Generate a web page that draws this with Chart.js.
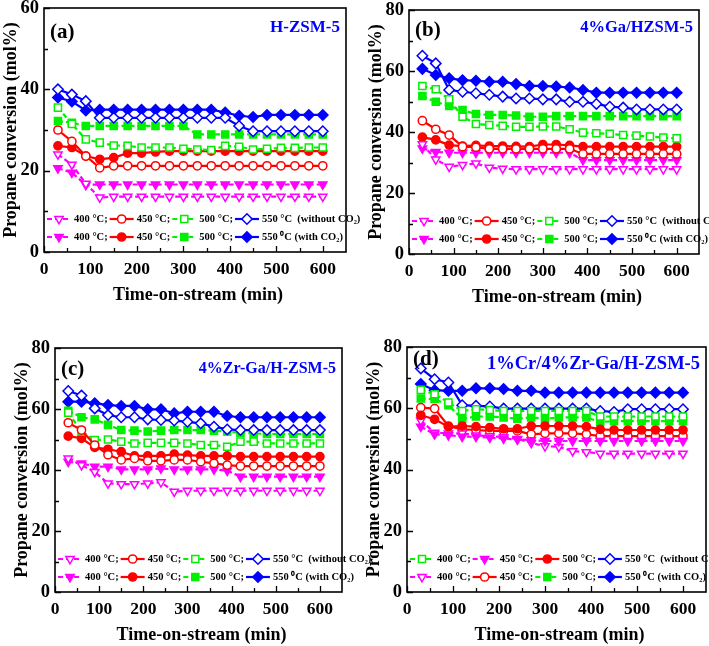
<!DOCTYPE html>
<html><head><meta charset="utf-8">
<script src="https://cdn.jsdelivr.net/npm/chart.js@4/dist/chart.umd.min.js"></script>
<style>
html,body{margin:0;padding:0;background:#fff;}
#wrap{position:relative;width:709px;height:646px;overflow:hidden;background:#fff;}
#wrap canvas{position:absolute;left:-20px;top:-20px;}
</style></head><body><div id="wrap">
<canvas id="ca" width="749" height="686"></canvas>
<canvas id="cb" width="749" height="686"></canvas>
<canvas id="cc" width="749" height="686"></canvas>
<canvas id="cd" width="749" height="686"></canvas>
</div>
<script>
// ---------- shared axis data ----------
const timeMin = [30,60,90,120,150,180,210,240,270,300,330,360,390,420,450,480,510,540,570,600];
const xTickValues = [0,100,200,300,400,500,600];
const yTickValuesA = [0,20,40,60];
const yTickValuesBCD = [0,20,40,60,80];

// ---------- panel (a) H-ZSM-5 ----------
const aMag400Open = [24.0,21.5,16.8,13.4,13.6,13.6,13.6,13.6,13.6,13.6,13.6,13.6,13.6,13.6,13.6,13.6,13.6,13.6,13.6,13.6];
const aRed450Open = [30.0,27.2,23.6,20.7,21.2,21.2,21.2,21.2,21.2,21.2,21.2,21.2,21.2,21.2,21.2,21.2,21.2,21.2,21.2,21.2];
const aGrn500Open = [35.5,31.5,27.7,26.9,26.2,26.1,25.7,25.7,25.7,25.4,25.2,25.1,26.1,25.9,25.2,25.4,25.6,25.6,25.7,25.7];
const aBlu550Open = [40.0,38.7,37.1,33.0,33.0,33.0,33.0,33.0,33.0,33.0,33.0,33.0,33.0,31.0,29.7,29.7,29.7,29.7,29.7,29.7];
const aMag400Fill = [20.6,19.5,16.5,16.6,16.6,16.6,16.6,16.6,16.6,16.6,16.6,16.6,16.6,16.6,16.6,16.6,16.6,16.6,16.6,16.6];
const aRed450Fill = [26.1,25.7,23.6,22.8,23.2,24.3,24.3,24.6,24.8,24.8,24.8,24.8,24.8,24.8,24.8,24.8,24.8,24.8,24.8,24.8];
const aGrn500Fill = [32.2,31.8,31.0,31.0,31.0,31.0,31.0,31.0,31.0,31.0,28.9,28.9,28.9,28.9,28.9,28.9,28.9,28.9,28.9,28.9];
const aBlu550Fill = [38.0,37.0,34.8,35.0,35.0,35.0,35.0,35.0,35.0,35.0,35.0,35.0,34.3,33.5,33.2,33.7,33.7,33.7,33.7,33.7];

// ---------- panel (b) 4%Ga/HZSM-5 ----------
const bMag400Open = [36.0,31.0,28.6,29.2,29.7,28.3,28.0,27.8,27.8,27.8,27.8,27.8,27.8,27.8,27.8,27.8,27.8,27.8,27.8,27.8];
const bRed450Open = [43.7,40.9,39.0,35.2,35.0,34.5,34.5,34.5,34.5,34.5,34.5,34.5,32.8,32.8,32.8,32.8,32.8,32.8,32.8,32.8];
const bGrn500Open = [55.1,54.0,50.7,45.0,42.6,42.3,42.0,41.7,41.7,41.8,41.8,40.9,39.8,39.6,39.4,39.0,38.8,38.5,38.2,37.9];
const bBlu550Open = [65.0,62.5,53.8,53.2,52.7,52.2,51.6,51.0,51.0,50.7,50.7,49.9,49.9,49.2,48.3,48.0,47.4,47.4,47.4,47.4];
const bMag400Fill = [34.6,33.5,33.2,33.2,33.2,33.2,33.2,33.2,33.2,33.2,33.2,33.2,30.8,30.8,30.8,30.8,30.8,30.8,30.8,30.8];
const bRed450Fill = [38.3,37.4,35.7,35.4,35.6,35.4,35.4,35.3,35.2,35.9,35.9,35.6,35.2,35.2,35.2,35.2,35.2,35.2,35.2,35.2];
const bGrn500Fill = [51.8,49.9,48.5,47.2,45.9,45.6,45.6,45.4,45.0,45.0,45.2,45.2,45.2,45.2,45.2,45.2,45.2,45.2,45.2,45.2];
const bBlu550Fill = [60.7,58.7,57.6,57.0,56.8,56.5,56.5,55.7,55.1,55.1,54.9,54.6,53.8,52.9,52.9,52.9,52.9,52.9,52.9,52.9];

// ---------- panel (c) 4%Zr-Ga/H-ZSM-5 ----------
const cMag400Open = [43.8,41.6,39.4,35.6,35.4,35.4,35.6,36.0,32.9,33.2,33.2,33.2,33.2,33.2,33.2,33.2,33.2,33.2,33.2,33.2];
const cRed450Open = [55.5,53.1,48.2,45.0,43.3,43.8,43.0,43.0,43.3,43.3,42.7,42.2,41.6,41.3,41.3,41.3,41.3,41.3,41.3,41.3];
const cGrn500Open = [58.8,52.6,49.8,50.0,49.3,48.7,48.9,48.9,48.9,48.7,48.2,48.2,47.6,49.3,49.3,48.7,48.7,48.7,48.7,48.7];
const cBlu550Open = [65.9,64.4,60.2,58.0,57.3,57.3,56.6,56.4,56.2,55.8,55.3,54.2,53.3,53.1,53.1,53.1,53.1,53.1,53.1,53.1];
const cMag400Fill = [42.7,42.2,41.1,41.1,40.2,40.2,40.2,40.5,40.2,40.2,40.2,40.2,39.8,37.8,37.8,37.8,37.8,37.8,37.8,37.8];
const cRed450Fill = [51.1,50.4,47.4,46.8,46.0,44.6,44.6,44.6,45.2,44.9,44.6,44.6,44.6,44.4,44.4,44.4,44.4,44.4,44.4,44.4];
const cGrn500Fill = [59.4,57.3,56.6,54.8,53.1,52.9,52.6,52.9,53.1,53.1,53.1,52.9,52.6,52.2,52.0,51.8,51.8,51.8,51.8,51.8];
const cBlu550Fill = [62.4,62.4,61.9,61.3,61.0,61.0,59.9,59.9,58.6,59.1,59.1,59.1,57.7,57.3,57.3,57.3,57.3,57.3,57.3,57.3];

// ---------- panel (d) 1%Cr/4%Zr-Ga/H-ZSM-5 ----------
const dGrnOpen = [66.0,64.6,61.9,59.1,59.7,59.4,59.1,59.1,59.1,59.1,59.1,59.1,59.1,57.3,57.3,57.3,57.3,57.3,57.3,57.3];
const dMagFill = [54.0,51.5,51.2,50.7,50.7,50.4,50.1,49.8,49.6,49.3,49.3,49.3,49.3,49.3,49.3,49.3,49.3,49.3,49.3,49.3];
const dRedFill = [57.7,56.4,54.0,54.2,54.0,53.7,53.3,53.3,54.2,54.2,54.2,54.2,54.0,53.1,52.9,52.9,52.9,52.9,52.9,52.9];
const dBluOpen = [73.0,69.5,68.4,61.0,60.8,60.6,59.9,59.9,59.9,59.9,59.9,59.9,59.9,59.1,58.8,59.7,59.7,59.7,59.7,59.7];
const dMagOpen = [56.0,52.0,51.8,51.8,51.1,50.9,50.6,50.0,48.7,47.6,47.4,46.0,45.7,45.2,45.2,45.2,45.2,45.2,45.2,45.2];
const dRedOpen = [60.2,59.9,54.2,53.1,52.9,52.6,52.6,52.6,51.5,51.8,51.8,51.8,51.5,50.9,50.9,50.9,50.9,50.9,50.9,50.9];
const dGrnFill = [63.2,63.0,61.0,56.6,57.3,57.3,57.0,56.6,57.0,56.6,57.0,57.0,57.0,55.5,55.8,55.8,55.8,55.8,55.8,55.8];
const dBluFill = [67.9,65.9,65.7,65.7,66.5,66.5,66.3,65.7,65.7,65.1,65.1,65.1,65.1,65.1,65.1,65.1,65.1,65.1,65.1,65.1];

// ---------- labels ----------
const lbl400 = '400 °C;', lbl450 = '450 °C;', lbl500 = '500 °C;';
const lbl550wo = '550 °C  (without CO\u2082)';
const lbl550w = '550 \u2070C (with CO\u2082)';
const yTitle = 'Propane conversion (mol%)';
const xTitle = 'Time-on-stream (min)';

// ---------- styling ----------
const MAG = '#ff00ff', RED = '#ff0000', GRN = '#00f000', BLU = '#0000ff';
const FONT = "'Liberation Serif','Times New Roman',serif";
const OFF = 20, YW = 40, XH = 60;
const STYLE = {
  mag: {color: MAG, pointStyle: 'triangle', rotation: 180, radius: 4.8, dash: [5,3]},
  red: {color: RED, pointStyle: 'circle', rotation: 0, radius: 4.1, dash: []},
  grn: {color: GRN, pointStyle: 'rect', rotation: 0, radius: 5, dash: [5,3]},
  blu: {color: BLU, pointStyle: 'rectRot', rotation: 0, radius: 5.2, dash: []}
};
function S(kind, filled, data, row, col, label){ return {kind, filled, data, row, col, label}; }

const panels = [
  {id:'ca', tag:'(a)', title:'H-ZSM-5', titleSize:17, yMax:60, yTicks:yTickValuesA,
   box:{l:44,t:8,r:346,b:252}, tagDy:25, titleDy:20,
   series:[S('mag',false,aMag400Open,0,0,lbl400),S('red',false,aRed450Open,0,1,lbl450),S('grn',false,aGrn500Open,0,2,lbl500),S('blu',false,aBlu550Open,0,3,lbl550wo),
           S('mag',true,aMag400Fill,1,0,lbl400),S('red',true,aRed450Fill,1,1,lbl450),S('grn',true,aGrn500Fill,1,2,lbl500),S('blu',true,aBlu550Fill,1,3,lbl550w)]},
  {id:'cb', tag:'(b)', title:'4%Ga/HZSM-5', titleSize:16.5, yMax:80, yTicks:yTickValuesBCD,
   box:{l:409,t:10,r:699,b:254}, tagDy:21, titleDy:18,
   series:[S('mag',false,bMag400Open,0,0,lbl400),S('red',false,bRed450Open,0,1,lbl450),S('grn',false,bGrn500Open,0,2,lbl500),S('blu',false,bBlu550Open,0,3,lbl550wo),
           S('mag',true,bMag400Fill,1,0,lbl400),S('red',true,bRed450Fill,1,1,lbl450),S('grn',true,bGrn500Fill,1,2,lbl500),S('blu',true,bBlu550Fill,1,3,lbl550w)]},
  {id:'cc', tag:'(c)', title:'4%Zr-Ga/H-ZSM-5', titleSize:16, yMax:80, yTicks:yTickValuesBCD,
   box:{l:55,t:348,r:342,b:592}, tagDy:22, titleDy:21,
   series:[S('mag',false,cMag400Open,0,0,lbl400),S('red',false,cRed450Open,0,1,lbl450),S('grn',false,cGrn500Open,0,2,lbl500),S('blu',false,cBlu550Open,0,3,lbl550wo),
           S('mag',true,cMag400Fill,1,0,lbl400),S('red',true,cRed450Fill,1,1,lbl450),S('grn',true,cGrn500Fill,1,2,lbl500),S('blu',true,cBlu550Fill,1,3,lbl550w)]},
  {id:'cd', tag:'(d)', title:'1%Cr/4%Zr-Ga/H-ZSM-5', titleSize:18.5, yMax:80, yTicks:yTickValuesBCD,
   box:{l:407,t:347,r:706,b:592}, tagDy:13, titleDy:17,
   series:[S('grn',false,dGrnOpen,0,0,lbl400),S('mag',true,dMagFill,0,1,lbl450),S('red',true,dRedFill,0,2,lbl500),S('blu',false,dBluOpen,0,3,lbl550wo),
           S('mag',false,dMagOpen,1,0,lbl400),S('red',false,dRedOpen,1,1,lbl450),S('grn',true,dGrnFill,1,2,lbl500),S('blu',true,dBluFill,1,3,lbl550w)]}
];

function drawMarker(ctx, st, filled, x, y){
  ctx.save();
  ctx.setLineDash([]);
  ctx.fillStyle = filled ? st.color : '#ffffff';
  ctx.strokeStyle = st.color;
  ctx.lineWidth = 1.5;
  Chart.helpers.drawPoint(ctx, {pointStyle: st.pointStyle, rotation: st.rotation, radius: st.radius, borderWidth: 1.5}, x, y);
  ctx.restore();
}

const extras = {
  id: 'extras',
  afterDraw(chart){
    const p = chart.config.options.plugins.extras.panel;
    const ctx = chart.ctx, ca = chart.chartArea, xs = chart.scales.x, ys = chart.scales.y;
    ctx.save();
    // frame
    ctx.strokeStyle = '#000'; ctx.lineWidth = 1.6; ctx.setLineDash([]);
    ctx.strokeRect(ca.left, ca.top, ca.right - ca.left, ca.bottom - ca.top);
    // inward ticks
    ctx.lineWidth = 1.3;
    ctx.beginPath();
    for (let v = 0; v <= 600; v += 50) {
      const px = Math.round(xs.getPixelForValue(v)) + 0.5;
      const len = (v % 100 === 0) ? 6 : 4;
      ctx.moveTo(px, ca.bottom); ctx.lineTo(px, ca.bottom - len);
    }
    for (let v = 0; v <= p.yMax; v += 10) {
      const py = Math.round(ys.getPixelForValue(v)) + 0.5;
      const len = (v % 20 === 0) ? 6 : 4;
      ctx.moveTo(ca.left, py); ctx.lineTo(ca.left + len, py);
    }
    ctx.stroke();
    // panel tag & title
    ctx.fillStyle = '#000';
    ctx.font = 'bold 21px ' + FONT;
    ctx.textBaseline = 'middle'; ctx.textAlign = 'left';
    ctx.fillText(p.tag, ca.left + 6, ca.top + p.tagDy);
    ctx.fillStyle = BLU;
    ctx.font = 'bold ' + p.titleSize + 'px ' + FONT;
    ctx.textAlign = 'right';
    ctx.fillText(p.title, ca.right - 6, ca.top + p.titleDy);
    // axis titles
    ctx.fillStyle = '#000';
    ctx.font = 'bold 18px ' + FONT;
    ctx.textAlign = 'center';
    ctx.fillText(xTitle, (ca.left + ca.right) / 2 + 3, ca.bottom + 43);
    ctx.save();
    ctx.translate(ca.left - 33, (ca.top + ca.bottom) / 2);
    ctx.rotate(-Math.PI / 2);
    ctx.fillText(yTitle, 0, 0);
    ctx.restore();
    // legend
    ctx.font = 'bold 10.5px ' + FONT;
    ctx.textAlign = 'left';
    const colW = [0,0,0,0];
    p.series.forEach(s => { if (s.row === 1) colW[s.col] = ctx.measureText(s.label).width; });
    const colX = []; let x = ca.left + 3;
    for (let c = 0; c < 4; c++) { colX.push(x); x += 24 + 3 + colW[c] + 2; }
    p.series.forEach(s => {
      const st = STYLE[s.kind];
      const y = ca.bottom - (s.row === 0 ? 33 : 15);
      const x0 = colX[s.col];
      ctx.save();
      ctx.strokeStyle = st.color; ctx.lineWidth = 2.2; ctx.setLineDash(st.dash);
      ctx.beginPath(); ctx.moveTo(x0, y); ctx.lineTo(x0 + 24, y); ctx.stroke();
      ctx.restore();
      drawMarker(ctx, st, s.filled, x0 + 12, y);
      ctx.fillStyle = '#000';
      ctx.fillText(s.label, x0 + 27, y + 0.5);
    });
    ctx.restore();
  }
};

panels.forEach(p => {
  const datasets = p.series.map(s => {
    const st = STYLE[s.kind];
    return {
      label: s.label,
      data: s.data.map((v, i) => ({x: timeMin[i], y: v})),
      borderColor: st.color,
      borderWidth: 2.2,
      borderDash: st.dash,
      backgroundColor: st.color,
      pointStyle: st.pointStyle,
      rotation: st.rotation,
      pointRadius: st.radius,
      pointBorderWidth: 1.5,
      pointBorderColor: st.color,
      pointBackgroundColor: s.filled ? st.color : '#ffffff',
      fill: false,
      tension: 0
    };
  });
  const b = p.box;
  new Chart(document.getElementById(p.id), {
    type: 'line',
    data: {datasets},
    plugins: [extras],
    options: {
      responsive: false, animation: false, devicePixelRatio: 1,
      layout: {padding: {left: OFF + b.l - YW, top: OFF + b.t, right: 749 - (OFF + b.r), bottom: 686 - (OFF + b.b) - XH}},
      plugins: {legend: {display: false}, tooltip: {enabled: false}, title: {display: false}, extras: {panel: p}},
      scales: {
        x: {
          type: 'linear', min: 0, max: 650,
          afterFit(s){ s.height = XH; },
          afterBuildTicks(s){ s.ticks = xTickValues.map(v => ({value: v})); },
          grid: {display: false, drawTicks: false}, border: {display: false},
          ticks: {autoSkip: false, maxRotation: 0, padding: 7, color: '#000', font: {family: FONT, size: 17.5, weight: 'bold'}}
        },
        y: {
          type: 'linear', min: 0, max: p.yMax,
          afterFit(s){ s.width = YW; },
          afterBuildTicks(s){ s.ticks = p.yTicks.map(v => ({value: v})); },
          grid: {display: false, drawTicks: false}, border: {display: false},
          ticks: {padding: 5, color: '#000', font: {family: FONT, size: 18.5, weight: 'bold'}}
        }
      }
    }
  });
});
</script>
</body></html>
